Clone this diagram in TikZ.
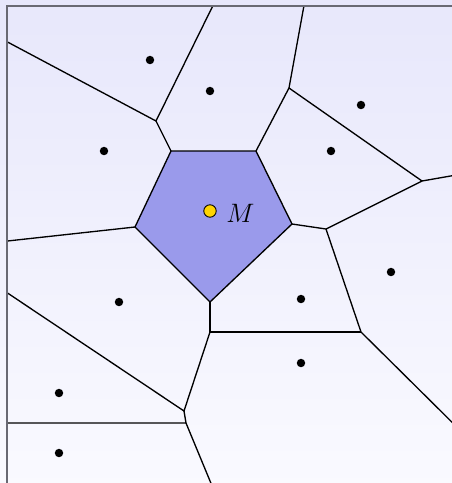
\documentclass[tikz,border=0pt]{standalone}
\usepackage{tikz}

\definecolor{bgtop}{RGB}{231,231,251}
\definecolor{bgbot}{RGB}{250,250,255}
\definecolor{cellM}{RGB}{154,154,235}
\definecolor{siteM}{RGB}{255,212,0}
\definecolor{frame}{RGB}{105,105,115}

\tikzset{
    edge/.style={semithick, black},
    site/.style={circle, fill=black, inner sep=0pt, minimum size=3.8pt},
}

\begin{document}
\begin{tikzpicture}[x=0.45pt, y=-0.45pt]
    % ==================== NỀN VÀ KHUNG ====================
    \clip[use as bounding box] (0,0) rectangle (452,483);
    \shade[top color=bgtop, bottom color=bgbot] (-5,-5) rectangle (460,490);

    % Các đỉnh của sơ đồ Voronoi
    \coordinate (P1) at (171,151);
    \coordinate (P2) at (256,151);
    \coordinate (P3) at (292,224);
    \coordinate (P4) at (210,302);
    \coordinate (P5) at (135,227);
    \coordinate (A) at (156,121);
    \coordinate (B) at (289,88);
    \coordinate (C) at (422,181);
    \coordinate (D) at (326,229);
    \coordinate (E) at (361,332);
    \coordinate (F) at (210,332);
    \coordinate (G) at (184,411);
    \coordinate (H) at (186,423);

    % Các điểm trên biên
    \coordinate (L1) at (7.5,42);
    \coordinate (L2) at (7.5,241);
    \coordinate (L3) at (7.5,293);
    \coordinate (L4) at (7.5,423);
    \coordinate (T1) at (213,5.5);
    \coordinate (T2) at (304,5.5);
    \coordinate (R1) at (462,174);
    \coordinate (R2) at (472,442);
    \coordinate (D1) at (215,493);

    % Ô Voronoi của M
    \fill[cellM] (P1) -- (P2) -- (P3) -- (P4) -- (P5) -- cycle;
    \draw[edge] (P1) -- (P2) -- (P3) -- (P4) -- (P5) -- cycle;

    % Các cạnh còn lại
    \draw[edge] (L1) -- (A) -- (T1);
    \draw[edge] (A) -- (P1);
    \draw[edge] (P5) -- (L2);
    \draw[edge] (P2) -- (B) -- (T2);
    \draw[edge] (B) -- (C) -- (R1);
    \draw[edge] (P3) -- (D) -- (C);
    \draw[edge] (D) -- (E) -- (R2);
    \draw[edge] (P4) -- (F) -- (E);
    \draw[edge] (F) -- (G) -- (L3);
    \draw[edge] (G) -- (H) -- (L4);
    \draw[edge] (H) -- (D1);

    % Khung
    \draw[frame, line width=0.9pt] (7.5,490) -- (7.5,5.5) -- (460,5.5);

    % Các điểm sinh
    \node[site] (s1) at (150,60) {};
    \node[site] (s2) at (210,91) {};
    \node[site] (s3) at (104,151) {};
    \node[site] (s4) at (361,105) {};
    \node[site] (s5) at (331,151) {};
    \node[site] (s6) at (391,272) {};
    \node[site] (s7) at (301,299) {};
    \node[site] (s8) at (301,363) {};
    \node[site] (s9) at (119,302) {};
    \node[site] (s10) at (59,393) {};
    \node[site] (s11) at (59,453) {};

    % Điểm M
    \node[circle, draw=black, fill=siteM, inner sep=0pt, minimum size=5.6pt, thin] (M) at (210,211) {};
    \node[anchor=west, inner sep=0pt] (lblM) at (226,213) {\large $M$};
\end{tikzpicture}
\end{document}
